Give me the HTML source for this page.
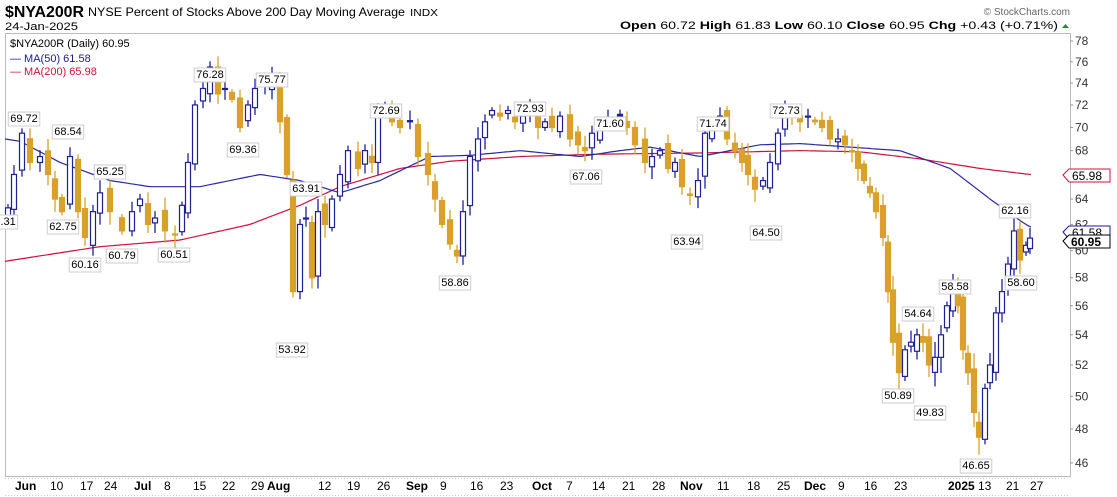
<!DOCTYPE html>
<html><head><meta charset="utf-8"><style>
body{margin:0;background:#fff;width:1117px;height:497px;overflow:hidden;font-family:"Liberation Sans",sans-serif}
svg{position:absolute;left:0;top:0}
</style></head><body>
<svg id="s" width="1117" height="497" xmlns="http://www.w3.org/2000/svg" font-family="Liberation Sans, sans-serif">
<text x="5" y="17" font-size="16" font-weight="bold" fill="#000" textLength="79" lengthAdjust="spacingAndGlyphs">$NYA200R</text>
<text x="88" y="16" font-size="12" fill="#000" textLength="317" lengthAdjust="spacingAndGlyphs">NYSE Percent of Stocks Above 200 Day Moving Average</text>
<text x="410" y="16" font-size="10" fill="#000" textLength="28" lengthAdjust="spacingAndGlyphs">INDX</text>
<text x="5" y="30" font-size="11" fill="#000" textLength="73" lengthAdjust="spacingAndGlyphs">24-Jan-2025</text>
<text x="1070" y="15" font-size="10" fill="#666" text-anchor="end">© StockCharts.com</text>
<text x="620" y="29" font-size="11" fill="#000" textLength="438" lengthAdjust="spacingAndGlyphs"><tspan font-weight="bold">Open</tspan> 60.72  <tspan font-weight="bold">High</tspan> 61.83  <tspan font-weight="bold">Low</tspan> 60.10  <tspan font-weight="bold">Close</tspan> 60.95  <tspan font-weight="bold">Chg</tspan> +0.43 (+0.71%)</text>
<polygon points="1062,28 1069,28 1065.5,24" fill="#2a8a2a"/>
<rect x="5.5" y="33.5" width="1065" height="443" fill="none" stroke="#bbb"/>
<g id="grid"></g>
<g id="lines"></g>
<g id="candles"></g>
<g font-size="11" fill="#000">
<text x="10" y="47">$NYA200R (Daily) 60.95</text>
<text x="10" y="62" fill="#1a1a9a">— MA(50) 61.58</text>
<text x="10" y="75" fill="#d0103a">— MA(200) 65.98</text>
</g>
<g id="ylab" font-size="12" fill="#333"></g>
<g id="lbl" font-size="11" fill="#000" text-anchor="middle">
<text x="24" y="122">69.72</text><text x="68" y="135">68.54</text><text x="110" y="175">65.25</text>
<text x="5" y="225">3.31</text><text x="63" y="230">62.75</text><text x="85" y="268">60.16</text><text x="122" y="259">60.79</text><text x="174" y="258">60.51</text>
<text x="210" y="78">76.28</text><text x="272" y="83">75.77</text><text x="243" y="153">69.36</text><text x="306" y="192">63.91</text><text x="292" y="353">53.92</text>
<text x="386" y="114">72.69</text><text x="455" y="286">58.86</text><text x="530" y="112">72.93</text><text x="586" y="180">67.06</text><text x="610" y="127">71.60</text>
<text x="687" y="245">63.94</text><text x="713" y="127">71.74</text><text x="766" y="236">64.50</text><text x="786" y="114">72.73</text>
<text x="898" y="399">50.89</text><text x="918" y="317">54.64</text><text x="930" y="416">49.83</text><text x="955" y="290">58.58</text><text x="976" y="469">46.65</text><text x="1015" y="214">62.16</text><text x="1021" y="286">58.60</text>
</g>
<g font-size="12" fill="#000">
<text x="15" y="490" font-weight="bold">Jun</text><text x="50" y="490">10</text><text x="80" y="490">17</text><text x="104" y="490">24</text><text x="134" y="490" font-weight="bold">Jul</text><text x="164" y="490">8</text><text x="193" y="490">15</text><text x="222" y="490">22</text><text x="251" y="490">29</text><text x="267" y="490" font-weight="bold">Aug</text><text x="318" y="490">12</text><text x="347" y="490">19</text><text x="377" y="490">26</text><text x="406" y="490" font-weight="bold">Sep</text><text x="440" y="490">9</text><text x="470" y="490">16</text><text x="500" y="490">23</text><text x="532" y="490" font-weight="bold">Oct</text><text x="566" y="490">7</text><text x="592" y="490">14</text><text x="622" y="490">21</text><text x="652" y="490">28</text><text x="680" y="490" font-weight="bold">Nov</text><text x="717" y="490">11</text><text x="747" y="490">18</text><text x="777" y="490">25</text><text x="804" y="490" font-weight="bold">Dec</text><text x="838" y="490">9</text><text x="864" y="490">16</text><text x="894" y="490">23</text><text x="948" y="490" font-weight="bold">2025</text><text x="978" y="490">13</text><text x="1006" y="490">21</text><text x="1030" y="490">27</text>
</g>
<g id="badges" font-size="12">
<polygon points="1063,175 1069,169 1110,169 1110,182 1069,182" fill="#fff" stroke="#d0103a"/>
<text x="1072" y="180" fill="#000">65.98</text>
<polygon points="1063,232 1069,226 1110,226 1110,239 1069,239" fill="#fff" stroke="#1a1a9a"/>
<text x="1072" y="237" fill="#000">61.58</text>
<polygon points="1063,241 1069,235 1110,235 1110,248 1069,248" fill="#fff" stroke="#000"/>
<text x="1071" y="246" fill="#000" font-weight="bold">60.95</text>
</g>
</svg>
<script>
const Y=v=>41+(Math.log(78)-Math.log(v))*799;
const NS="http://www.w3.org/2000/svg";
function el(p,t,a,before){const e=document.createElementNS(NS,t);for(const k in a)e.setAttribute(k,a[k]);const par=document.getElementById(p);if(before)par.insertBefore(e,before);else par.appendChild(e);return e;}
for(let v=46;v<=78;v+=2){el('grid','line',{x1:1070,x2:1073,y1:Y(v),y2:Y(v),stroke:'#999'});const t=el('ylab','text',{x:1075,y:Y(v)+4});t.textContent=v;}
el('grid','line',{x1:5,x2:1070,y1:478.5,y2:478.5,stroke:'#ccc','stroke-dasharray':'1,2'});
el('grid','line',{x1:5,x2:1070,y1:495.5,y2:495.5,stroke:'#ccc','stroke-dasharray':'1,2'});
function interp(pts,x){for(let i=1;i<pts.length;i++){if(x<=pts[i][0]){const a=pts[i-1],b=pts[i];return a[1]+(b[1]-a[1])*(x-a[0])/(b[0]-a[0]);}}return pts[pts.length-1][1];}
const ma50=[[5,69],[20,68.8],[60,67],[110,65.5],[150,65],[200,65],[260,66],[300,65.5],[340,64.5],[380,65.5],[430,67.5],[470,67.6],[520,68],[580,67.5],[620,68],[650,68.3],[700,67.5],[760,68.5],[800,68.6],[850,68.3],[900,68],[950,66.5],[990,64],[1020,62.3],[1030,61.8]];
const ma200=[[5,59.2],[100,60.3],[180,60.8],[250,62],[300,63.5],[340,65],[400,66.5],[450,67.1],[520,67.5],[600,67.7],[700,67.8],[800,68],[860,67.9],[920,67.3],[980,66.5],[1030,66]];
function path(p,c){let d='';for(let x=5;x<=1032;x+=3)d+=(d?'L':'M')+x+','+Y(interp(p,x)).toFixed(1);el('lines','path',{d:d,fill:'none',stroke:c,'stroke-width':1.2});}
path(ma200,'#d0103a');path(ma50,'#2a2aa0');
const K=[[8,63.3],[14,66],[22,69.5],[30,67],[40,67.5],[48,66],[55,64],[62,63],[70,67.5],[78,63],[85,61],[93,63],[100,64.5],[110,63],[122,61.5],[132,63],[140,64],[148,62],[155,62.5],[165,61.5],[175,61.2],[182,63.5],[188,67],[195,72],[203,73.5],[210,75.5],[218,73],[225,73.5],[232,72.5],[240,70],[248,72],[255,73.5],[265,74],[272,74.5],[280,70.5],[287,66],[293,57],[300,62],[306,62.5],[312,58],[318,63],[325,62],[332,64],[340,66],[348,68],[358,66.5],[365,68],[372,67],[378,71.5],[385,72],[392,70.5],[400,70],[410,70.5],[418,67.5],[428,66],[435,64],[442,62],[450,60.5],[457,59.6],[463,63],[470,67.5],[478,69],[485,70.5],[492,71.5],[500,71],[508,71.5],[515,70.5],[523,71],[530,71.5],[538,70],[545,70.5],[552,70],[560,71],[570,69],[578,68.5],[585,68],[592,69.5],[600,70.5],[608,70.8],[620,71],[627,70],[635,68.5],[645,67],[652,67.5],[660,68],[668,66.5],[675,67],[682,65],[690,64.3],[698,65.5],[705,69.5],[712,70.5],[720,71],[727,69],[735,68],[742,67],[748,66],[755,64.8],[763,65.5],[770,67],[778,69.5],[785,71.5],[792,71],[800,70.5],[808,71],[815,70.5],[822,70],[830,69],[838,69],[845,68.5],[852,68],[858,66.5],[864,65.5],[870,64.5],[876,63],[883,61],[888,57],[893,53.5],[899,51.5],[905,53],[911,53.5],[917,54],[923,53.5],[929,52],[935,52.5],[941,54],[947,56],[953,57.5],[958,56],[963,53],[968,51.5],[974,49],[979,47.5],[985,50.5],[990,52],[996,55.5],[1002,57],[1008,59],[1014,61.5],[1020,59.3],[1026,60.4],[1030,60.95]];
let prev=null;const W=5;
K.forEach((p,i)=>{const c=p[1];const o=prev===null?c-1:prev+((i*37%11)-5)*0.12;
 const hi=Math.max(o,c)+0.3+(i*53%7)*0.12, lo=Math.min(o,c)-0.3-(i*29%7)*0.12;
 const up=prev===null||c>=prev;const col=up?'#1f1f9a':'#d9a12a';const filled=c<o;
 el('candles','line',{x1:p[0],x2:p[0],y1:Y(hi),y2:Y(lo),stroke:col,'stroke-width':1.3});
 const t=Y(Math.max(o,c)),b=Y(Math.min(o,c));
 el('candles','rect',{x:p[0]-W/2,y:t,width:W,height:Math.max(1,b-t),fill:filled?col:'#fff',stroke:col,'stroke-width':1.2});
 prev=c;});
const lbl=document.getElementById('lbl');
Array.from(lbl.querySelectorAll('text')).forEach(t=>{const b=t.getBBox();el('lbl','rect',{x:b.x-2,y:b.y-1,width:b.width+4,height:b.height+2,fill:'#fff',stroke:'#ccc'},t);});
</script>
</body></html>
